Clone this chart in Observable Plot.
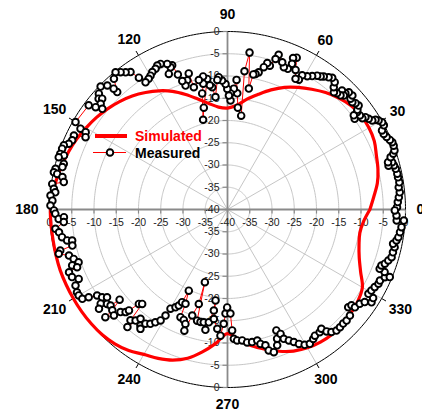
<!DOCTYPE html>
<html><head><meta charset="utf-8">
<script src="https://cdn.jsdelivr.net/npm/d3@7"></script>
<script src="https://cdn.jsdelivr.net/npm/@observablehq/plot@0.6"></script>
<style>
body{margin:0;background:#fff;}
#wrap{position:relative;width:422px;height:411px;overflow:hidden;}
#legend{position:absolute;left:0;top:0;pointer-events:none;}
</style></head><body>
<div id="wrap"></div>
<script>
// ---------- data ----------
const angleTicks = [0,30,60,90,120,150,180,210,240,270,300,330];
const radialTicks = [0,-5,-10,-15,-20,-25,-30,-35,-40];
const seriesNames = ["Simulated","Measured"];

const simAngle = [0,5,10,15,20,25,30,35,40,45,50,55,60,65,70,75,80,85,90,95,100,105,110,115,120,125,130,135,140,145,150,155,160,165,170,175,180,185,190,195,200,205,210,215,220,225,230,235,240,245,250,255,260,265,270,275,280,285,290,295,300,305,310,315,320,325,330,335,340,345,350,355,360];
const simDb = [-8.0,-7.0,-5.8,-5.0,-4.4,-3.6,-3.3,-3.3,-3.7,-4.6,-5.7,-7.0,-8.3,-9.7,-11.4,-13.2,-14.8,-16.5,-17.2,-16.9,-15.8,-14.3,-12.5,-10.7,-9.2,-7.9,-6.7,-5.7,-4.8,-4.0,-3.3,-2.6,-2.0,-1.5,-1.0,-0.5,-0.2,-0.2,-0.2,-0.1,0,0,0,0,-0.05,-0.2,-0.6,-1.3,-2.4,-3.1,-4.0,-5.4,-7.5,-9.8,-12.1,-10.6,-8.9,-7.5,-6.1,-4.9,-4.1,-3.6,-3.4,-3.5,-3.8,-4.2,-5.0,-7.0,-8.5,-9.4,-9.8,-9.3,-8.0];

const measAngle = [0.8,2.5,4.1,5.7,7.4,9.0,10.7,11.9,13.6,14.8,16.0,15.2,16.4,17.8,18.6,19.5,21.0,22.2,23.2,24.5,25.8,27.1,28.3,29.4,30.5,31.2,31.6,32.7,33.8,34.1,35.4,36.9,35.5,36.7,37.5,38.4,39.7,40.7,42.0,42.4,44.0,44.6,46.1,44.4,45.3,46.7,47.8,49.0,49.9,51.5,52.6,54.1,55.0,56.2,57.6,59.1,60.9,61.2,62.5,64.0,65.5,66.6,66.1,66.8,68.4,69.6,71.7,72.3,73.6,74.8,75.7,77.2,78.3,79.2,80.0,82.0,83.0,81.7,84.2,85.2,86.0,87.0,88.5,88.4,89.3,90.1,90.9,92.4,93.8,94.5,96.1,97.1,98.1,98.8,103.1,105.2,102.3,100.9,100.4,102.5,105.4,105.9,107.3,108.7,109.4,110.2,111.0,111.8,113.4,112.5,114.7,116.0,117.1,118.7,119.9,121.1,122.8,123.9,125.2,126.6,127.9,129.2,131.0,133.2,133.3,134.1,135.9,138.0,139.3,138.5,140.2,141.2,142.2,143.1,150.1,151.2,151.4,153.0,154.3,156.0,157.5,158.6,159.8,161.6,161.7,162.8,164.4,165.6,166.7,167.9,168.2,168.9,170.5,171.7,173.2,174.3,175.5,177.1,178.7,180.3,181.4,183.2,182.7,184.4,186.4,187.7,189.5,190.9,191.3,193.1,193.8,194.7,196.2,197.8,199.8,199.5,201.0,201.6,203.5,205.0,206.6,208.8,210.0,211.6,212.3,213.4,215.0,216.1,216.6,217.7,218.1,219.4,219.9,221.2,221.4,223.0,223.8,225.2,225.7,226.8,227.9,228.8,229.6,230.4,231.5,233.1,233.9,234.3,236.0,237.4,238.9,239.7,240.1,242.0,243.1,243.9,244.5,246.0,246.4,248.4,249.8,250.4,251.6,253.1,252.7,254.7,256.5,258.1,259.6,260.6,262.3,262.5,262.9,265.1,266.8,268.1,268.9,269.8,271.6,272.2,272.8,274.2,276.4,278.4,280.5,282.8,283.8,285.6,286.3,288.0,290.1,291.0,292.0,293.1,293.5,295.1,296.6,298.0,299.7,301.5,303.5,304.7,306.9,308.2,309.1,310.3,312.0,313.7,315.4,317.0,319.1,321.0,322.3,322.5,324.5,326.0,327.2,328.7,329.1,330.6,332.2,333.8,335.0,336.7,337.4,338.3,338.7,340.0,341.0,342.4,343.8,345.5,347.3,348.3,349.6,350.8,352.5,354.2,356.4,356.3,358.0,359.7];
const measDb = [-1.9,-1.7,-1.4,-1.1,-1.2,-0.9,-1.0,-1.0,-1.1,-1.3,-1.5,-2.5,-2.4,-1.5,-0.7,-0.2,0.0,0.0,-0.3,-0.7,-1.0,-1.0,-0.1,-0.1,-0.6,-1.1,-1.8,-2.3,-2.7,-3.4,-3.5,-3.6,-4.9,-4.6,-3.2,-2.4,-2.6,-3.0,-2.8,-2.0,-2.1,-2.8,-2.9,-3.4,-3.9,-4.1,-4.4,-3.6,-2.6,-2.2,-2.6,-3.1,-3.5,-3.8,-4.5,-5.1,-5.5,-6.7,-6.9,-5.1,-2.5,-2.9,-4.2,-5.6,-5.6,-4.7,-3.4,-4.5,-6.3,-5.9,-7.0,-8.4,-8.9,-9.1,-12.4,-4.4,-8.7,-18.7,-17.0,-13.8,-10.8,-12.8,-13.9,-15.5,-14.4,-12.9,-11.8,-11.0,-10.2,-10.8,-14.6,-12.3,-11.8,-10.3,-16.5,-19.1,-13.3,-11.2,-9.6,-10.2,-11.5,-8.2,-9.6,-10.6,-9.4,-7.7,-5.3,-5.6,-6.8,-4.6,-4.0,-4.0,-4.5,-4.8,-5.3,-5.7,-6.0,-4.3,-2.2,-1.6,-0.9,-0.2,-1.1,-3.8,-2.7,-1.2,-0.3,-1.1,-1.8,-2.4,-2.9,-3.9,-2.5,-1.0,-0.6,-2.3,-3.7,-4.2,-1.7,-1.8,-1.4,-0.5,-0.4,-0.4,-1.3,-0.3,-1.8,-1.7,-0.3,-0.1,-0.9,-2.2,-2.7,-0.2,-0.7,-1.1,-0.1,-0.6,-0.2,-1.0,-1.3,-2.0,-3.2,-3.1,-1.1,-1.8,-2.3,-3.3,-4.4,-4.2,-1.3,-0.8,-2.9,-3.7,-2.9,-4.5,-3.8,-1.7,-1.9,-3.1,-1.8,-1.4,-1.4,-1.7,-3.1,-4.9,-5.6,-6.5,-4.5,-3.5,-5.6,-6.0,-8.4,-5.6,-3.4,-5.1,-6.7,-7.5,-8.3,-10.9,-11.4,-6.9,-5.3,-7.6,-8.6,-7.4,-6.8,-8.4,-9.0,-9.9,-10.9,-12.4,-14.3,-15.1,-15.8,-16.8,-19.8,-16.8,-13.6,-13.3,-12.6,-11.1,-14.9,-17.8,-22.9,-14.1,-14.0,-14.1,-12.5,-14.3,-17.1,-19.4,-15.2,-13.1,-11.6,-14.3,-16.6,-18.0,-16.6,-12.8,-10.9,-10.5,-10.4,-9.8,-9.7,-9.8,-8.9,-8.3,-7.0,-6.3,-7.5,-8.9,-10.7,-9.6,-8.3,-7.5,-6.7,-5.8,-5.0,-4.6,-5.1,-5.5,-5.5,-5.9,-4.7,-3.9,-3.4,-3.4,-3.5,-3.4,-3.6,-5.1,-4.8,-3.9,-3.5,-2.8,-1.5,-1.7,-3.1,-2.9,-2.6,-2.2,-2.2,-1.5,-0.5,-2.0,-3.3,-3.2,-2.6,-2.1,-1.6,-1.6,-1.5,-2.0,-1.4,-1.1,-0.9,-0.7,-0.3,-1.9,-2.0,-2.4];

// ---------- geometry helpers ----------
const dbMin = -40, R = 0 - dbMin;
const W = 422, H = 411, mL = 49, mR = 17, mT = 31, mB = 24;
const pxPerUnit = (W - mL - mR) / (2 * R);
const rad = a => a * Math.PI / 180;
const px = (a, db) => (db - dbMin) * Math.cos(rad(a));
const py = (a, db) => (db - dbMin) * Math.sin(rad(a));

const sim = simAngle.map((a, i) => ({a, db: simDb[i]}));
const meas = measAngle.map((a, i) => ({a, db: measDb[i]}));

const innerRings = radialTicks.filter(v => v > dbMin && v < 0);
const circ = d3.range(0, 361, 1);
const ringRows = innerRings.flatMap(v => circ.map(a => ({v, a})));
const outerRows = circ.map(a => ({v: 0, a}));

const spokes = angleTicks.filter(a => a % 90 !== 0);
const mainAxes = [0, 90];
const tickL = 5 / pxPerUnit, tickD = 4 / pxPerUnit, outerT = 5 / pxPerUnit;

const vertUp = radialTicks;                       // 0..-40 above centre
const vertDown = radialTicks.filter(v => v > dbMin); // below centre
const horLeft = radialTicks.filter(v => v > dbMin);
const horRight = radialTicks;

const labelPos = a => {
  const t = rad(a), w = String(a).length * 7.8;
  const ext = Math.hypot(w / 2 * Math.cos(t), 6 * Math.sin(t));
  const r = (189 + ext) / pxPerUnit;
  return [r * Math.cos(t), r * Math.sin(t)];
};

const gridC = "#c6c6c6", axisC = "#8a8a8a";

const chart = Plot.plot({
  width: W, height: H,
  marginLeft: mL, marginRight: mR, marginTop: mT, marginBottom: mB,
  x: {domain: [-R, R], axis: null},
  y: {domain: [-R, R], axis: null},
  style: {fontFamily: "'Liberation Sans', Arial, sans-serif", background: "white", overflow: "visible"},
  marks: [
    Plot.line(ringRows, {x: d => px(d.a, d.v), y: d => py(d.a, d.v), z: "v", stroke: gridC, strokeWidth: 1}),
    Plot.link(spokes, {x1: 0, y1: 0, x2: a => px(a, 0), y2: a => py(a, 0), stroke: gridC, strokeWidth: 1}),
    Plot.link(mainAxes, {x1: a => px(a + 180, 0), y1: a => py(a + 180, 0), x2: a => px(a, 0), y2: a => py(a, 0), stroke: axisC, strokeWidth: 1.8}),
    Plot.line(outerRows, {x: d => px(d.a, d.v), y: d => py(d.a, d.v), stroke: "black", strokeWidth: 1}),
    Plot.link(spokes, {x1: a => px(a, 0), y1: a => py(a, 0), x2: a => (R + outerT) * Math.cos(rad(a)), y2: a => (R + outerT) * Math.sin(rad(a)), stroke: "black", strokeWidth: 1}),
    // vertical axis ticks and labels
    Plot.link(vertUp, {x1: 0, x2: -tickL, y1: v => v - dbMin, y2: v => v - dbMin, stroke: axisC, strokeWidth: 1.2}),
    Plot.link(vertDown, {x1: 0, x2: -tickL, y1: v => -(v - dbMin), y2: v => -(v - dbMin), stroke: axisC, strokeWidth: 1.2}),
    Plot.text(vertUp, {x: 0, y: v => v - dbMin, text: v => String(v), dx: -8, textAnchor: "end", fontSize: 10.5, fill: "#222"}),
    Plot.text(vertDown, {x: 0, y: v => -(v - dbMin), text: v => String(v), dx: -8, textAnchor: "end", fontSize: 10.5, fill: "#222"}),
    // horizontal axis ticks and labels
    Plot.link(horLeft, {y1: 0, y2: -tickD, x1: v => -(v - dbMin), x2: v => -(v - dbMin), stroke: axisC, strokeWidth: 1.2}),
    Plot.link(horRight, {y1: 0, y2: -tickD, x1: v => v - dbMin, x2: v => v - dbMin, stroke: axisC, strokeWidth: 1.2}),
    Plot.text(horLeft, {x: v => -(v - dbMin), y: 0, text: v => String(v), dy: 13, fontSize: 10.5, fill: "#222"}),
    Plot.text(horRight, {x: v => v - dbMin, y: 0, text: v => String(v), dy: 13, fontSize: 10.5, fill: "#222"}),
    // angle labels
    Plot.text(angleTicks, {x: a => labelPos(a)[0], y: a => labelPos(a)[1], text: a => String(a), fontSize: 14, fontWeight: "bold", fill: "black"}),
    // data
    Plot.line(sim, {x: d => px(d.a, d.db), y: d => py(d.a, d.db), stroke: "#ff0000", strokeWidth: 3.2, curve: "catmull-rom"}),
    Plot.line(meas, {x: d => px(d.a, d.db), y: d => py(d.a, d.db), stroke: "#ff0000", strokeWidth: 1}),
    Plot.dot(meas, {x: d => px(d.a, d.db), y: d => py(d.a, d.db), r: 3.3, fill: "white", stroke: "black", strokeWidth: 1.9})
  ]
});

const wrap = document.getElementById("wrap");
wrap.appendChild(chart);

// legend (inside plot area, top-left)
const ns = "http://www.w3.org/2000/svg";
const leg = document.createElementNS(ns, "svg");
leg.setAttribute("id", "legend");
leg.setAttribute("width", W); leg.setAttribute("height", H);
leg.innerHTML = `
  <line x1="95" y1="136" x2="127" y2="136" stroke="#ff0000" stroke-width="4"/>
  <text x="135" y="141" font-family="'Liberation Sans', Arial, sans-serif" font-size="14" font-weight="bold" fill="#ff0000">${seriesNames[0]}</text>
  <line x1="93" y1="152.5" x2="126" y2="152.5" stroke="#ff0000" stroke-width="1"/>
  <circle cx="110" cy="152.5" r="3.3" fill="white" stroke="black" stroke-width="1.9"/>
  <text x="135" y="157.5" font-family="'Liberation Sans', Arial, sans-serif" font-size="14" font-weight="bold" fill="black">${seriesNames[1]}</text>`;
wrap.appendChild(leg);
</script>
</body></html>
